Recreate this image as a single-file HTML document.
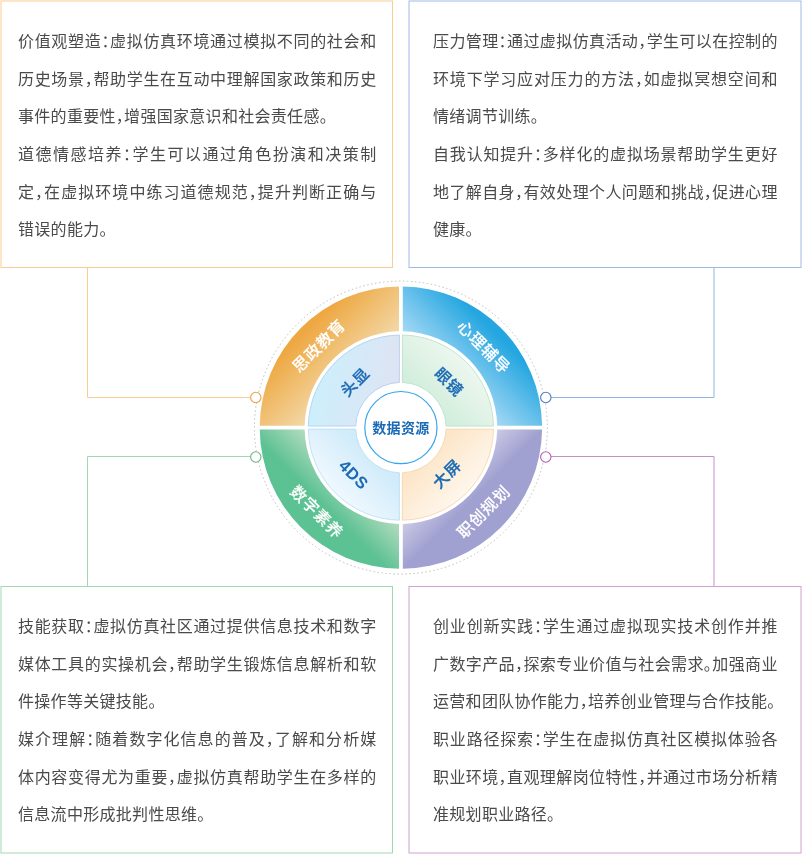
<!DOCTYPE html>
<html lang="zh-CN"><head><meta charset="utf-8"><title>虚拟仿真</title>
<style>
html,body{margin:0;padding:0;background:#fff;}
body{width:802px;height:854px;position:relative;overflow:hidden;font-family:"Liberation Sans","Noto Sans CJK SC",sans-serif;}
.art{position:absolute;left:0;top:0;will-change:transform;}
.tb{position:absolute;color:#4a4a4a;font-size:16px;letter-spacing:0.3px;line-height:37.62px;text-align:justify;font-feature-settings:"halt";font-weight:400;will-change:transform;}
.tb p{margin:0;}
.ln{display:block;white-space:nowrap;text-align:justify;text-align-last:justify;}
.ln.last{text-align:left;text-align-last:left;}
.b1{left:18px;top:23.4px;width:358.5px;}
.b2{left:433px;top:23.4px;width:344.8px;}
.b3{left:18px;top:607.9px;width:358.5px;}
.b4{left:433px;top:607.9px;width:344.8px;}
svg text{font-family:"Liberation Sans","Noto Sans CJK SC",sans-serif;font-weight:700;}
.lo{fill:#fff;font-size:16px;letter-spacing:0.7px;font-weight:500;stroke:#fff;stroke-width:0.12px;}
.li{fill:#1a6ab5;font-size:15.6px;letter-spacing:0.8px;font-weight:500;stroke:#1a6ab5;stroke-width:0.3px;}
.l4{font-size:16.5px;letter-spacing:0.6px;font-weight:700;stroke:none;}
.lc{fill:#1a6ab5;font-size:14px;letter-spacing:0.3px;}
</style></head><body>
<svg class="art" width="802" height="854" viewBox="0 0 802 854">
<defs><linearGradient id="g-tl" gradientUnits="userSpaceOnUse" x1="354.2" y1="380.9" x2="304.7" y2="331.4"><stop offset="0" stop-color="#f3dbad"/><stop offset="1" stop-color="#eea842"/></linearGradient><linearGradient id="g-tr" gradientUnits="userSpaceOnUse" x1="447.6" y1="380.9" x2="495.7" y2="332.8"><stop offset="0" stop-color="#abdbf6"/><stop offset="1" stop-color="#24a6e0"/></linearGradient><linearGradient id="g-bl" gradientUnits="userSpaceOnUse" x1="354.2" y1="474.3" x2="294.8" y2="533.7"><stop offset="0" stop-color="#b9dec3"/><stop offset="0.52" stop-color="#5cc193"/><stop offset="1" stop-color="#5cc193"/></linearGradient><linearGradient id="g-br" gradientUnits="userSpaceOnUse" x1="447.6" y1="474.3" x2="507.0" y2="533.7"><stop offset="0" stop-color="#cfcde6"/><stop offset="0.42" stop-color="#a1a1d1"/><stop offset="1" stop-color="#a1a1d1"/></linearGradient><linearGradient id="i-tl" gradientUnits="userSpaceOnUse" x1="320.9" y1="382.6" x2="395.9" y2="397.6"><stop offset="0" stop-color="#ceeefb"/><stop offset="1" stop-color="#dee3f3"/></linearGradient><linearGradient id="s-tl" gradientUnits="userSpaceOnUse" x1="308.9" y1="372.6" x2="392.9" y2="407.6"><stop offset="0" stop-color="#9bd5f2"/><stop offset="1" stop-color="#b6c6e7"/></linearGradient><linearGradient id="i-tr" gradientUnits="userSpaceOnUse" x1="429.2" y1="399.3" x2="466.0" y2="362.5"><stop offset="0" stop-color="#d3eedd"/><stop offset="1" stop-color="#edf7ef"/></linearGradient><linearGradient id="i-bl" gradientUnits="userSpaceOnUse" x1="372.6" y1="455.9" x2="335.8" y2="492.7"><stop offset="0" stop-color="#d0ebfa"/><stop offset="1" stop-color="#eff8fe"/></linearGradient><linearGradient id="i-br" gradientUnits="userSpaceOnUse" x1="429.2" y1="455.9" x2="466.0" y2="492.7"><stop offset="0" stop-color="#fce6c9"/><stop offset="1" stop-color="#fef7ec"/></linearGradient></defs>
<g fill="none" stroke-width="1">
<rect x="1" y="1" width="391.5" height="266.5" stroke="#f8cd93"/>
<rect x="409" y="1" width="392" height="266.5" stroke="#9fb9e6"/>
<rect x="1" y="586.5" width="391.5" height="266.5" stroke="#a3d6b5"/>
<rect x="409" y="586.5" width="392" height="266.5" stroke="#cfa2cf"/>
<path d="M87.5 268V397.5H251" stroke="#f8cd93"/>
<path d="M714 268V397.5H551" stroke="#8fb6e0"/>
<path d="M87.5 586V456.5H251" stroke="#a3d6b5"/>
<path d="M714 586V456.5H551" stroke="#c98fc9"/>
</g>
<circle cx="400.9" cy="427.6" r="146.5" fill="none" stroke="#9c9c9c" stroke-width="0.6" stroke-dasharray="1.6 2.4"/>
<path d="M259.71 425.70A141.2 141.2 0 0 1 399.00 286.41L399.00 331.32A96.3 96.3 0 0 0 304.62 425.70Z" fill="url(#g-tl)"/>
<path d="M542.09 425.70A141.2 141.2 0 0 0 402.80 286.41L402.80 331.32A96.3 96.3 0 0 1 497.18 425.70Z" fill="url(#g-tr)"/>
<path d="M259.71 429.50A141.2 141.2 0 0 0 399.00 568.79L399.00 523.88A96.3 96.3 0 0 1 304.62 429.50Z" fill="url(#g-bl)"/>
<path d="M542.09 429.50A141.2 141.2 0 0 1 402.80 568.79L402.80 523.88A96.3 96.3 0 0 0 497.18 429.50Z" fill="url(#g-br)"/>
<path d="M308.31 426.10A92.6 92.6 0 0 1 399.40 335.01L399.40 382.42A45.2 45.2 0 0 0 355.72 426.10Z" fill="url(#i-tl)" stroke="url(#s-tl)" stroke-width="0.8"/>
<path d="M493.49 426.10A92.6 92.6 0 0 0 402.40 335.01L402.40 382.42A45.2 45.2 0 0 1 446.08 426.10Z" fill="url(#i-tr)" stroke="#b4e0c8" stroke-width="0.8"/>
<path d="M308.31 429.10A92.6 92.6 0 0 0 399.40 520.19L399.40 472.78A45.2 45.2 0 0 1 355.72 429.10Z" fill="url(#i-bl)" stroke="#b8dcf5" stroke-width="0.8"/>
<path d="M493.49 429.10A92.6 92.6 0 0 1 402.40 520.19L402.40 472.78A45.2 45.2 0 0 0 446.08 429.10Z" fill="url(#i-br)" stroke="#f6d3a6" stroke-width="0.8"/>
<circle cx="400.9" cy="427.6" r="36.1" fill="#fff" stroke="#38a4ec" stroke-width="1.2"/>
<g fill="#fff" stroke-width="1.1">
<circle cx="255.8" cy="397.5" r="5.2" stroke="#e9a24a"/>
<circle cx="545.8" cy="397.5" r="5.2" stroke="#4f7cc4"/>
<circle cx="255.8" cy="457" r="5.2" stroke="#6fb486"/>
<circle cx="545.8" cy="457" r="5.2" stroke="#b55fb0"/>
</g>
<text class="lo" transform="translate(319.1 346.0) rotate(-45)" text-anchor="middle" dominant-baseline="central">思政教育</text><text class="lo" transform="translate(483.6 347.2) rotate(45)" text-anchor="middle" dominant-baseline="central">心理辅导</text><text class="lo" transform="translate(316.6 512.2) rotate(45)" text-anchor="middle" dominant-baseline="central">数字素养</text><text class="lo" transform="translate(483.7 512.1) rotate(-45)" text-anchor="middle" dominant-baseline="central">职创规划</text><text class="li" transform="translate(355.3 382.0) rotate(-45)" text-anchor="middle" dominant-baseline="central">头显</text><text class="li" transform="translate(449.0 382.1) rotate(45)" text-anchor="middle" dominant-baseline="central">眼镜</text><text class="li l4" transform="translate(353.9 474.6) rotate(45)" text-anchor="middle" dominant-baseline="central">4DS</text><text class="li" transform="translate(447.2 473.9) rotate(-45)" text-anchor="middle" dominant-baseline="central">大屏</text>
<text class="lc" x="400.9" y="427.6" text-anchor="middle" dominant-baseline="central">数据资源</text>
</svg>
<div class="tb b1"><p><span class="ln">价值观塑造：虚拟仿真环境通过模拟不同的社会和</span><span class="ln">历史场景，帮助学生在互动中理解国家政策和历史</span><span class="ln last">事件的重要性，增强国家意识和社会责任感。</span></p><p><span class="ln">道德情感培养：学生可以通过角色扮演和决策制</span><span class="ln">定，在虚拟环境中练习道德规范，提升判断正确与</span><span class="ln last">错误的能力。</span></p></div><div class="tb b2"><p><span class="ln">压力管理：通过虚拟仿真活动，学生可以在控制的</span><span class="ln">环境下学习应对压力的方法，如虚拟冥想空间和</span><span class="ln last">情绪调节训练。</span></p><p><span class="ln">自我认知提升：多样化的虚拟场景帮助学生更好</span><span class="ln">地了解自身，有效处理个人问题和挑战，促进心理</span><span class="ln last">健康。</span></p></div><div class="tb b3"><p><span class="ln">技能获取：虚拟仿真社区通过提供信息技术和数字</span><span class="ln">媒体工具的实操机会，帮助学生锻炼信息解析和软</span><span class="ln last">件操作等关键技能。</span></p><p><span class="ln">媒介理解：随着数字化信息的普及，了解和分析媒</span><span class="ln">体内容变得尤为重要，虚拟仿真帮助学生在多样的</span><span class="ln last">信息流中形成批判性思维。</span></p></div><div class="tb b4"><p><span class="ln">创业创新实践：学生通过虚拟现实技术创作并推</span><span class="ln">广数字产品，探索专业价值与社会需求。加强商业</span><span class="ln last">运营和团队协作能力，培养创业管理与合作技能。</span></p><p><span class="ln">职业路径探索：学生在虚拟仿真社区模拟体验各</span><span class="ln">职业环境，直观理解岗位特性，并通过市场分析精</span><span class="ln last">准规划职业路径。</span></p></div>
</body></html>
